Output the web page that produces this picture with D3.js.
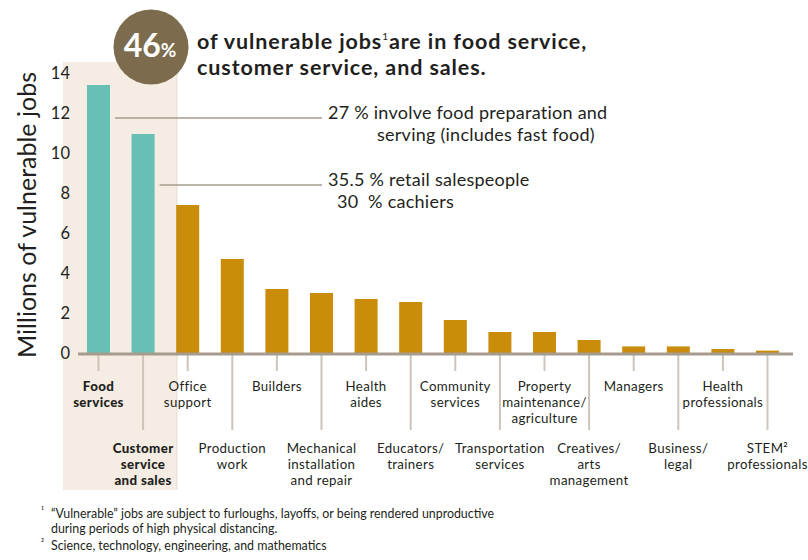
<!DOCTYPE html>
<html>
<head>
<meta charset="utf-8">
<script src="https://cdn.jsdelivr.net/npm/d3@7"></script>
<style>
  html, body { margin: 0; padding: 0; background: #fff; }
  svg { display: block; }
  text { font-family: Lato, "Open Sans", sans-serif; fill: #231f20; }
</style>
</head>
<body>
<svg id="chart" width="808" height="560"></svg>
<script>
// ---- data ----
const categories = [
  "Food services", "Customer service and sales", "Office support", "Production work",
  "Builders", "Mechanical installation and repair", "Health aides", "Educators/ trainers",
  "Community services", "Transportation services", "Property maintenance/ agriculture",
  "Creatives/ arts management", "Managers", "Business/ legal", "Health professionals",
  "STEM² professionals"
];
const values = [13.4, 10.95, 7.4, 4.7, 3.2, 3.0, 2.7, 2.55, 1.65, 1.05, 1.05, 0.65, 0.33, 0.33, 0.2, 0.12];
const labelLines = [
  ["Food", "services"], ["Customer", "service", "and sales"], ["Office", "support"], ["Production", "work"],
  ["Builders"], ["Mechanical", "installation", "and repair"], ["Health", "aides"], ["Educators/", "trainers"],
  ["Community", "services"], ["Transportation", "services"], ["Property", "maintenance/", "agriculture"],
  ["Creatives/", "arts", "management"], ["Managers"], ["Business/", "legal"], ["Health", "professionals"],
  ["STEM²", "professionals"]
];
const highlighted = ["Food services", "Customer service and sales"];
const yTicks = [0, 2, 4, 6, 8, 10, 12, 14];
const titleLines = ["of vulnerable jobs", "customer service, and sales."];
const bigStat = "46";
const notes = [
  { cat: "Food services", lines: ["27 % involve food preparation and", "serving (includes fast food)"] },
  { cat: "Customer service and sales", lines: ["35.5 % retail salespeople", "30  % cachiers"] }
];
const footnotes = [
  ["¹", "“Vulnerable” jobs are subject to furloughs, layoffs, or being rendered unproductive", "during periods of high physical distancing."],
  ["²", "Science, technology, engineering, and mathematics"]
];

// ---- layout ----
const svg = d3.select("#chart");
const x = d3.scaleBand().domain(categories).range([76.2, 789.8]).paddingInner(0.484).paddingOuter(0.242);
const y = d3.scaleLinear().domain([0, 14]).range([353, 73]);

const teal = "#68c0b5", gold = "#c98d0b", beige = "#f5ede3", axisCol = "#a59c8d", tickCol = "#cdc5b9";

// highlight panel
const hx0 = 63, hx1 = 177;
svg.append("rect").attr("x", hx0).attr("y", 62).attr("width", hx1 - hx0).attr("height", 428).attr("fill", beige);
svg.append("line").attr("x1", hx1).attr("x2", hx1).attr("y1", 62).attr("y2", 490).attr("stroke", "#e6ddd1").attr("stroke-width", 1);

// y tick labels
svg.append("g").selectAll("text").data(yTicks).join("text")
  .attr("x", 70).attr("y", d => y(d)).attr("dy", "0.36em")
  .attr("text-anchor", "end").attr("font-size", 16.5).text(d => d);

// y title
svg.append("text")
  .attr("transform", `translate(36,${(y(0) + y(14)) / 2 + 2}) rotate(-90)`)
  .attr("text-anchor", "middle").attr("font-size", 25)
  .text("Millions of vulnerable jobs");

// bars
svg.append("g").selectAll("rect").data(categories).join("rect")
  .attr("x", d => x(d)).attr("width", x.bandwidth())
  .attr("y", (d, i) => y(values[i])).attr("height", (d, i) => y(0) - y(values[i]))
  .attr("fill", d => highlighted.includes(d) ? teal : gold);

// axis ticks (alternating length)
svg.append("g").selectAll("line").data(categories).join("line")
  .attr("x1", d => x(d) + x.bandwidth() / 2).attr("x2", d => x(d) + x.bandwidth() / 2)
  .attr("y1", 355).attr("y2", (d, i) => i % 2 === 0 ? 371 : 430)
  .attr("stroke", tickCol).attr("stroke-width", 2);

// axis line
svg.append("line").attr("x1", 78).attr("x2", 793).attr("y1", y(0) + 1).attr("y2", y(0) + 1)
  .attr("stroke", axisCol).attr("stroke-width", 3);

// category labels
const lab = svg.append("g").selectAll("text").data(categories).join("text")
  .attr("text-anchor", "middle").attr("font-size", 13.3).attr("letter-spacing", 0.35)
  .attr("font-weight", d => highlighted.includes(d) ? 900 : 400);
lab.each(function (d, i) {
  const t = d3.select(this);
  const cx = x(d) + x.bandwidth() / 2;
  const y0 = i % 2 === 0 ? 391 : 453;
  labelLines[i].forEach((ln, j) => {
    t.append("tspan").attr("x", cx).attr("y", y0 + j * 16).text(ln);
  });
});

// annotations
const noteY = [118, 185];
notes.forEach((n, k) => {
  const x0 = x(n.cat) + x.bandwidth() + 5;
  svg.append("line").attr("x1", x0).attr("x2", 322).attr("y1", noteY[k]).attr("y2", noteY[k])
    .attr("stroke", axisCol).attr("stroke-width", 1.5);
  const t = svg.append("text").attr("font-size", 18).attr("letter-spacing", 0.25).style("white-space", "pre");
  t.append("tspan").attr("x", 328).attr("y", noteY[k] + 1).text(n.lines[0]);
  t.append("tspan").attr("x", k === 0 ? 377 : 337).attr("y", noteY[k] + 23).text(n.lines[1]);
});

// circle with stat
svg.append("circle").attr("cx", 151).attr("cy", 47).attr("r", 37.5).attr("fill", "#7c6b4d");
const st = svg.append("text").attr("x", 150).attr("y", 57).attr("text-anchor", "middle");
st.append("tspan").attr("font-size", 32).attr("font-weight", 700).style("fill", "#fff").text(bigStat);
st.append("tspan").attr("font-size", 19).attr("font-weight", 700).style("fill", "#fff").text("%");

// title
const tt = svg.append("text").attr("font-size", 21.5).attr("font-weight", 700).attr("letter-spacing", 0.9);
tt.append("tspan").attr("x", 197).attr("y", 49).text(titleLines[0]);
tt.append("tspan").attr("font-size", 10).attr("dy", -9).attr("font-weight", 400).text("1");
tt.append("tspan").attr("dy", 9).text("are in food service,");
tt.append("tspan").attr("x", 197).attr("y", 75).text(titleLines[1]);

// footnotes
const fn = svg.append("g").attr("font-size", 12.4);
let fy = 518;
footnotes.forEach(f => {
  fn.append("text").attr("x", 41).attr("y", fy - 4).attr("font-size", 9).text(f[0]);
  f.slice(1).forEach(line => {
    fn.append("text").attr("x", 51).attr("y", fy).text(line);
    fy += 15;
  });
  fy += 2;
});
</script>
</body>
</html>
